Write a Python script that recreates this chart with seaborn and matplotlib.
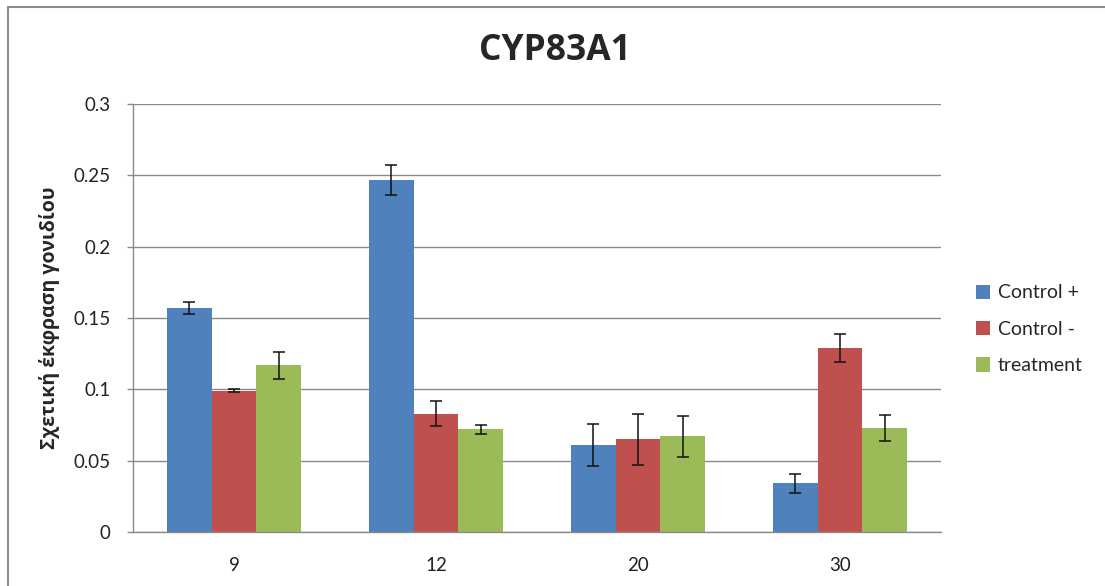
import matplotlib
matplotlib.use("Agg")
import matplotlib.pyplot as plt
import seaborn as sns
import pandas as pd
from matplotlib.patches import Rectangle

days = ["9", "12", "20", "30"]
series = ["Control +", "Control -", "treatment"]
control_plus = [0.157, 0.247, 0.061, 0.034]
control_minus = [0.099, 0.083, 0.065, 0.129]
treatment = [0.117, 0.072, 0.067, 0.073]
err_plus = [0.0045, 0.0105, 0.015, 0.0065]
err_minus = [0.001, 0.009, 0.018, 0.0098]
err_treat = [0.0095, 0.003, 0.0145, 0.009]
yticks = [0, 0.05, 0.1, 0.15, 0.2, 0.25, 0.3]
ytick_labels = ["0", "0.05", "0.1", "0.15", "0.2", "0.25", "0.3"]
title = "CYP83A1"
ylabel = "Σχετική έκφραση γονιδίου"

colors = ["#4F81BD", "#C0504D", "#9BBB59"]

rows = []
for s, vals, errs in zip(series, [control_plus, control_minus, treatment],
                         [err_plus, err_minus, err_treat]):
    for d, v, e in zip(days, vals, errs):
        rows.append({"day": d, "series": s, "value": v, "err": e})
df = pd.DataFrame(rows)

sns.set_theme(style="white")
fams = ["Lato", "Open Sans", "DejaVu Sans"]
plt.rcParams["font.family"] = fams

fig = plt.figure(figsize=(11.05, 5.86), dpi=100)
ax = fig.add_axes([133 / 1105, 1 - 532 / 586, (941 - 133) / 1105, (532 - 104) / 586])

sns.barplot(data=df, x="day", y="value", hue="series", order=days,
            hue_order=series, palette=colors, width=0.665, gap=0,
            saturation=1, errorbar=None, ax=ax, legend=True, linewidth=0)

# error bars on bar centres
for cont, s in zip(ax.containers, series):
    errs = df[df["series"] == s].set_index("day").loc[days, "err"].values
    xs = [b.get_x() + b.get_width() / 2 for b in cont]
    hs = [b.get_height() for b in cont]
    ax.errorbar(xs, hs, yerr=errs, fmt="none", ecolor="#111111",
                elinewidth=1.1, capsize=4, capthick=1.1, zorder=5)

ax.set_ylim(0, 0.3)
ax.set_xlim(-0.5, 3.5)
ax.set_yticks(yticks)
ax.set_yticklabels(ytick_labels)
ax.yaxis.grid(True, color="#8a8a8a", linewidth=1.0)
ax.set_axisbelow(True)
for sp in ["top", "right"]:
    ax.spines[sp].set_visible(False)
for sp in ["left", "bottom"]:
    ax.spines[sp].set_color("#8a8a8a")
    ax.spines[sp].set_linewidth(1.0)
ax.tick_params(axis="y", which="major", left=True, length=4, width=1,
               color="#8a8a8a", labelsize=13.5, pad=12, labelcolor="#222222")
ax.tick_params(axis="x", bottom=False, labelsize=13.5, pad=12, labelcolor="#222222")
ax.set_xlabel("")
ax.set_ylabel(ylabel, fontsize=14, fontweight="bold", labelpad=10,
              family=["Open Sans", "DejaVu Sans"])

fig.text(555 / 1105, 1 - 51 / 586, title, ha="center", va="center",
         fontsize=25.5, fontweight="bold", family=["Open Sans", "DejaVu Sans"])

sns.move_legend(ax, "upper left", bbox_to_anchor=(958 / 1105, 1 - 267 / 586),
                bbox_transform=fig.transFigure, frameon=False, title=None,
                fontsize=14, handlelength=0.75, handleheight=0.75,
                handletextpad=0.4, labelspacing=1.0)

# outer chart border
fig.patches.append(Rectangle((8 / 1105, -0.05), 1.2, 1 - 7 / 586 + 0.05,
                             transform=fig.transFigure, fill=False,
                             edgecolor="#8c8c8c", linewidth=1.5))

fig.savefig("out.png", dpi=100)
